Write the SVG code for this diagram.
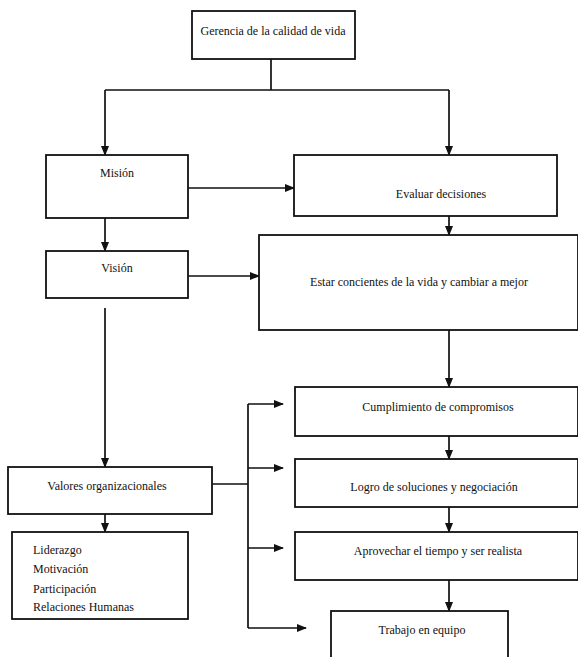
<svg xmlns="http://www.w3.org/2000/svg" width="578" height="657" viewBox="0 0 578 657">
<style>
.box{fill:#fff;stroke:#111;stroke-width:1.8}
.t{font-family:"Liberation Serif","Times New Roman",serif;font-size:12px;fill:#111;text-anchor:middle}
.l{font-family:"Liberation Serif","Times New Roman",serif;font-size:12px;fill:#111}
.c{fill:none;stroke:#111;stroke-width:1.7}
</style>
<defs>
<marker id="ah" markerWidth="10" markerHeight="8" refX="9" refY="4" orient="auto" markerUnits="userSpaceOnUse">
<path d="M0,0 L10,4 L0,8 Z" fill="#111"/>
</marker>
</defs>
<rect width="578" height="657" fill="#fff"/>
<g id="connectors">
<path class="c" d="M271,59 V90 M105,90 H449"/>
<path class="c" d="M105,90 V155" marker-end="url(#ah)"/>
<path class="c" d="M449,90 V155" marker-end="url(#ah)"/>
<path class="c" d="M188,188 H294" marker-end="url(#ah)"/>
<path class="c" d="M105,218 V251" marker-end="url(#ah)"/>
<path class="c" d="M449,216 V235" marker-end="url(#ah)"/>
<path class="c" d="M188,276 H259" marker-end="url(#ah)"/>
<path class="c" d="M449,330 V387" marker-end="url(#ah)"/>
<path class="c" d="M105,308 V467" marker-end="url(#ah)"/>
<path class="c" d="M105,514 V532" marker-end="url(#ah)"/>
<path class="c" d="M449,436 V459" marker-end="url(#ah)"/>
<path class="c" d="M449,507 V532" marker-end="url(#ah)"/>
<path class="c" d="M449,580 V611" marker-end="url(#ah)"/>
<path class="c" d="M212,484 H248 M248,404 V628"/>
<path class="c" d="M248,404 H283" marker-end="url(#ah)"/>
<path class="c" d="M248,468 H283" marker-end="url(#ah)"/>
<path class="c" d="M248,548 H283" marker-end="url(#ah)"/>
<path class="c" d="M248,628 H306" marker-end="url(#ah)"/>
</g>
<g id="gerencia"><rect class="box" x="192" y="11" width="163" height="48"/><text class="t" x="273" y="35">Gerencia de la calidad de vida</text></g>
<g id="mision"><rect class="box" x="46" y="155" width="142" height="63"/><text class="t" x="117" y="177">Misión</text></g>
<g id="evaluar"><rect class="box" x="294" y="155" width="263" height="61"/><text class="t" x="441" y="198">Evaluar decisiones</text></g>
<g id="vision"><rect class="box" x="46" y="251" width="142" height="47"/><text class="t" x="117" y="272">Visión</text></g>
<g id="estar"><rect class="box" x="259" y="235" width="319" height="95"/><text class="t" x="419" y="286">Estar concientes de la vida y cambiar a mejor</text></g>
<g id="cumplimiento"><rect class="box" x="295" y="387" width="283" height="49"/><text class="t" x="438" y="411">Cumplimiento de compromisos</text></g>
<g id="logro"><rect class="box" x="295" y="459" width="283" height="48"/><text class="t" x="434" y="491">Logro de soluciones y negociación</text></g>
<g id="aprovechar"><rect class="box" x="295" y="532" width="283" height="48"/><text class="t" x="438" y="555">Aprovechar el tiempo y ser realista</text></g>
<g id="trabajo"><rect class="box" x="331" y="611" width="177" height="50"/><text class="t" x="422" y="634">Trabajo en equipo</text></g>
<g id="valores"><rect class="box" x="8" y="467" width="204" height="47"/><text class="t" x="107" y="490">Valores organizacionales</text></g>
<g id="lista"><rect class="box" x="12" y="532" width="176" height="87"/>
<text class="l" x="33" y="554">Liderazgo</text>
<text class="l" x="33" y="573">Motivación</text>
<text class="l" x="33" y="593">Participación</text>
<text class="l" x="33" y="611">Relaciones Humanas</text></g>
</svg>
